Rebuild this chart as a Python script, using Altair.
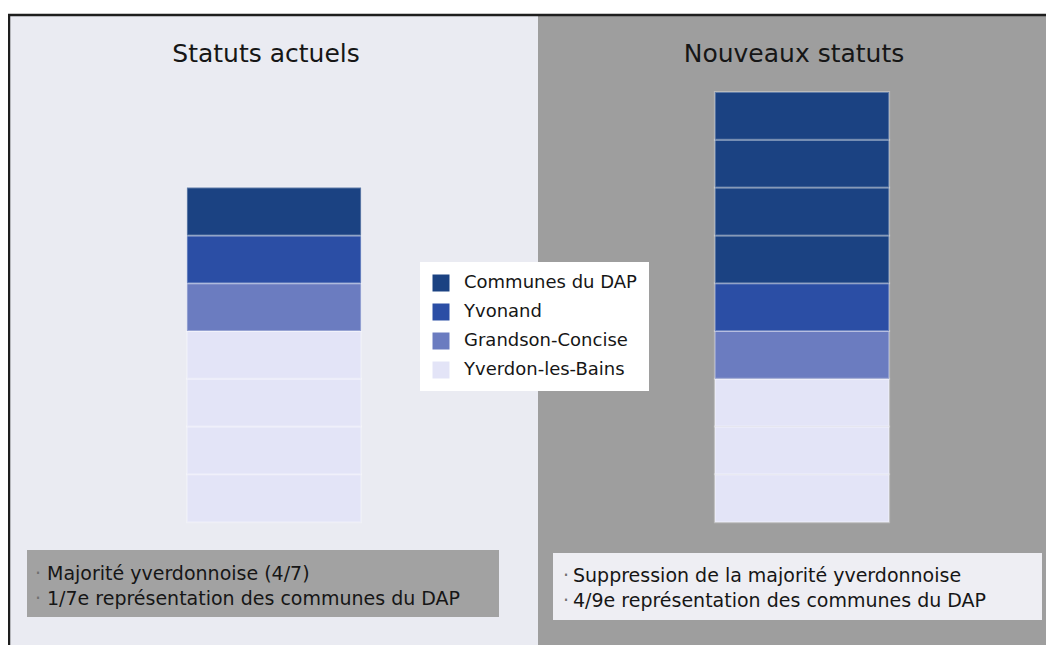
import altair as alt
import pandas as pd

# ---- data ----
statuts = ["Statuts actuels", "Nouveaux statuts"]
groupes = ["Communes du DAP", "Yvonand", "Grandson-Concise", "Yverdon-les-Bains"]
sieges_actuels = [1, 1, 1, 4]
sieges_nouveaux = [4, 1, 1, 3]
notes_actuels = ["Majorité yverdonnoise (4/7)",
                 "1/7e représentation des communes du DAP"]
notes_nouveaux = ["Suppression de la majorité yverdonnoise",
                  "4/9e représentation des communes du DAP"]

# ---- styles ----
couleurs = ["#1b4282", "#2b4ea5", "#6b7cc0", "#e3e4f7"]
fonds = ["#eaebf2", "#9e9e9e"]
FONT = "DejaVu Sans"
INK = "#161616"
W, H = 1036, 629

rows = []
for statut, sieges in zip(statuts, [sieges_actuels, sieges_nouveaux]):
    cum = 0
    for g, n in reversed(list(zip(groupes, sieges))):
        for _ in range(n):
            rows.append({"statut": statut, "groupe": g, "bas": cum, "haut": cum + 1})
            cum += 1
df = pd.DataFrame(rows)

x_scale = alt.Scale(domain=statuts, range=[0, 1056], paddingInner=0, paddingOuter=0)
y_scale = alt.Scale(domain=[-2.57, 10.59], nice=False, zero=False)
one = pd.DataFrame({"k": [0]})

bg = alt.Chart(pd.DataFrame({"statut": statuts})).mark_rect().encode(
    x=alt.X("statut:N", scale=x_scale, axis=None),
    y=alt.value(0), y2=alt.value(H),
    fill=alt.Fill("statut:N", scale=alt.Scale(domain=statuts, range=fonds), legend=None),
)

bars = alt.Chart(df).mark_bar(
    width=alt.RelativeBandSize(0.33), stroke="white", strokeWidth=2, strokeOpacity=0.3
).encode(
    x=alt.X("statut:N", scale=x_scale, axis=None),
    y=alt.Y("bas:Q", scale=y_scale, axis=None),
    y2="haut:Q",
    color=alt.Color(
        "groupe:N",
        scale=alt.Scale(domain=groupes, range=couleurs),
        legend=alt.Legend(
            title=None, orient="none", legendX=410, legendY=246, direction="vertical",
            symbolType="square", symbolSize=289, symbolStrokeWidth=0, symbolOpacity=1,
            labelFont=FONT, labelFontSize=18, labelColor=INK, labelOffset=14,
            labelLimit=0, rowPadding=11, padding=12, fillColor="white",
        ),
    ),
)

titres = alt.Chart(pd.DataFrame({"statut": statuts})).mark_text(
    font=FONT, fontSize=25, color=INK, dx=-8, align="center", baseline="alphabetic"
).encode(
    x=alt.X("statut:N", scale=x_scale, axis=None),
    y=alt.value(46),
    text="statut:N",
)

box_g = alt.Chart(one).mark_rect(color="#a2a2a2").encode(
    x=alt.value(17), x2=alt.value(489), y=alt.value(534), y2=alt.value(601))
box_d = alt.Chart(one).mark_rect(color="#eeeef3").encode(
    x=alt.value(543), x2=alt.value(1032), y=alt.value(537), y2=alt.value(604))

txt_style = dict(font=FONT, fontSize=19, color=INK, align="left",
                 baseline="alphabetic", lineHeight=25)
txt_g = alt.Chart(one).mark_text(text=notes_actuels, **txt_style).encode(
    x=alt.value(37), y=alt.value(564))
txt_d = alt.Chart(one).mark_text(text=notes_nouveaux, **txt_style).encode(
    x=alt.value(563), y=alt.value(566))
bul_style = dict(txt_style, color="#707070")
bul_g = alt.Chart(one).mark_text(text=["·", "·"], **bul_style).encode(
    x=alt.value(25), y=alt.value(564))
bul_d = alt.Chart(one).mark_text(text=["·", "·"], **bul_style).encode(
    x=alt.value(553), y=alt.value(566))

bord_h = alt.Chart(one).mark_rule(color="#1e1e1e", strokeWidth=2.5).encode(
    x=alt.value(-2), x2=alt.value(W + 10), y=alt.value(-1))
bord_v = alt.Chart(one).mark_rule(color="#1e1e1e", strokeWidth=2.5).encode(
    x=alt.value(-1), y=alt.value(-2), y2=alt.value(H))

chart = alt.layer(
    bg, bars, titres, box_g, box_d, txt_g, txt_d, bul_g, bul_d, bord_h, bord_v
).properties(
    width=W, height=H,
    padding={"left": 2, "top": 8, "right": 0, "bottom": 0},
    autosize=alt.AutoSizeParams(type="none"),
).configure_view(stroke=None)

chart.save("out.html", embed_options={"renderer": "svg", "actions": False})
